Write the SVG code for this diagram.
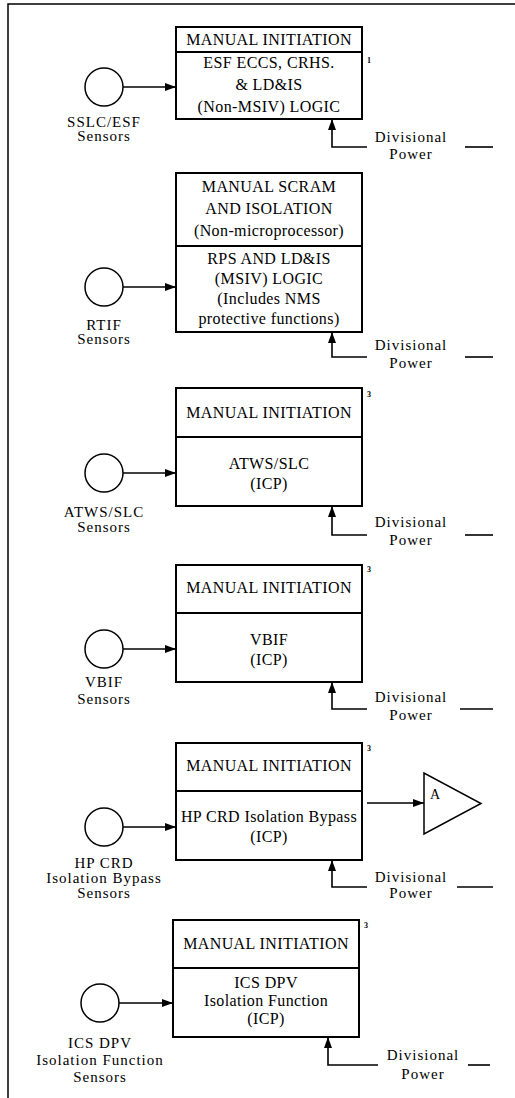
<svg xmlns="http://www.w3.org/2000/svg" width="515" height="1098" viewBox="0 0 515 1098">
<style>
.frame{fill:none;stroke:#000;stroke-width:1.5}
.box{fill:#fff;stroke:#000;stroke-width:2}
.div{stroke:#000;stroke-width:1.8}
.sensor{fill:#fff;stroke:#000;stroke-width:1.5}
.wire{fill:none;stroke:#000;stroke-width:1.6}
.bt{font-family:"Liberation Serif","Times New Roman",serif;font-size:16px;letter-spacing:0.4px;text-anchor:middle;fill:#000}
.lt{font-family:"Liberation Serif","Times New Roman",serif;font-size:15px;letter-spacing:1px;text-anchor:middle;fill:#000}
.sup{font-family:"Liberation Serif","Times New Roman",serif;font-size:8px;font-weight:bold;fill:#000}
</style>
<defs>
<marker id="ah" markerWidth="12" markerHeight="10" refX="11" refY="5" orient="auto" markerUnits="userSpaceOnUse">
<path d="M0,1 L11,5 L0,9 Z" fill="#000"/>
</marker>
</defs>
<rect width="515" height="1098" fill="#fff"/>
<g id="frame">
<path class="frame" d="M8,1098 V4 H515"/>
</g>

<g id="logic1">
<rect class="box" x="176" y="27" width="186" height="92"/>
<line class="div" x1="176" y1="52" x2="362" y2="52"/>
<text class="bt" x="269" y="45">MANUAL INITIATION</text>
<text class="bt" x="269" y="68">ESF ECCS, CRHS.</text>
<text class="bt" x="269" y="90">&amp; LD&amp;IS</text>
<text class="bt" x="269" y="112">(Non-MSIV) LOGIC</text>
<text class="sup" x="367" y="63">1</text>
</g>
<g id="sensor1">
<circle class="sensor" cx="104" cy="87" r="19"/>
<text class="lt" x="104" y="127">SSLC/ESF</text>
<text class="lt" x="104" y="141">Sensors</text>
</g>
<g id="power1">
<text class="lt" x="411" y="142">Divisional</text>
<text class="lt" x="411" y="159">Power</text>
</g>

<g id="logic2">
<rect class="box" x="176" y="173" width="186" height="159"/>
<line class="div" x1="176" y1="246" x2="362" y2="246"/>
<text class="bt" x="269" y="192">MANUAL SCRAM</text>
<text class="bt" x="269" y="214">AND ISOLATION</text>
<text class="bt" x="269" y="236">(Non-microprocessor)</text>
<text class="bt" x="269" y="264">RPS AND LD&amp;IS</text>
<text class="bt" x="269" y="284">(MSIV) LOGIC</text>
<text class="bt" x="269" y="304">(Includes NMS</text>
<text class="bt" x="269" y="324">protective functions)</text>
</g>
<g id="sensor2">
<circle class="sensor" cx="104" cy="287" r="19"/>
<text class="lt" x="104" y="330">RTIF</text>
<text class="lt" x="104" y="344">Sensors</text>
</g>
<g id="power2">
<text class="lt" x="411" y="350">Divisional</text>
<text class="lt" x="411" y="368">Power</text>
</g>

<g id="logic3">
<rect class="box" x="176" y="388" width="186" height="118"/>
<line class="div" x1="176" y1="437" x2="362" y2="437"/>
<text class="bt" x="269" y="418">MANUAL INITIATION</text>
<text class="bt" x="269" y="469">ATWS/SLC</text>
<text class="bt" x="269" y="489">(ICP)</text>
<text class="sup" x="367" y="397">3</text>
</g>
<g id="sensor3">
<circle class="sensor" cx="104" cy="473" r="19"/>
<text class="lt" x="104" y="517">ATWS/SLC</text>
<text class="lt" x="104" y="532">Sensors</text>
</g>
<g id="power3">
<text class="lt" x="411" y="527">Divisional</text>
<text class="lt" x="411" y="545">Power</text>
</g>

<g id="logic4">
<rect class="box" x="176" y="565" width="186" height="117"/>
<line class="div" x1="176" y1="613" x2="362" y2="613"/>
<text class="bt" x="269" y="593">MANUAL INITIATION</text>
<text class="bt" x="269" y="645">VBIF</text>
<text class="bt" x="269" y="665">(ICP)</text>
<text class="sup" x="367" y="572">3</text>
</g>
<g id="sensor4">
<circle class="sensor" cx="104" cy="649" r="19"/>
<text class="lt" x="104" y="687">VBIF</text>
<text class="lt" x="104" y="704">Sensors</text>
</g>
<g id="power4">
<text class="lt" x="411" y="702">Divisional</text>
<text class="lt" x="411" y="720">Power</text>
</g>

<g id="logic5">
<rect class="box" x="176" y="743" width="186" height="117"/>
<line class="div" x1="176" y1="791" x2="362" y2="791"/>
<text class="bt" x="269" y="771">MANUAL INITIATION</text>
<text class="bt" x="269" y="822">HP CRD Isolation Bypass</text>
<text class="bt" x="269" y="842">(ICP)</text>
<text class="sup" x="367" y="751">3</text>
</g>
<g id="sensor5">
<circle class="sensor" cx="104" cy="827" r="19"/>
<text class="lt" x="104" y="868">HP CRD</text>
<text class="lt" x="104" y="883">Isolation Bypass</text>
<text class="lt" x="104" y="898">Sensors</text>
</g>
<g id="power5">
<text class="lt" x="411" y="882">Divisional</text>
<text class="lt" x="411" y="898">Power</text>
</g>
<g id="offpage-A">
<polygon class="sensor" points="424,773 424,834 481,803.5"/>
<text class="lt" x="435" y="799" style="font-size:14px;letter-spacing:0">A</text>
</g>

<g id="logic6">
<rect class="box" x="173" y="920" width="186" height="117"/>
<line class="div" x1="173" y1="968" x2="359" y2="968"/>
<text class="bt" x="266" y="949">MANUAL INITIATION</text>
<text class="bt" x="266" y="988">ICS DPV</text>
<text class="bt" x="266" y="1006">Isolation Function</text>
<text class="bt" x="266" y="1024">(ICP)</text>
<text class="sup" x="364" y="928">3</text>
</g>
<g id="sensor6">
<circle class="sensor" cx="100" cy="1003" r="19"/>
<text class="lt" x="100" y="1048">ICS DPV</text>
<text class="lt" x="100" y="1065">Isolation Function</text>
<text class="lt" x="100" y="1082">Sensors</text>
</g>
<g id="power6">
<text class="lt" x="423" y="1060">Divisional</text>
<text class="lt" x="423" y="1079">Power</text>
</g>

<g id="connectors">
<line class="wire" x1="123" y1="87" x2="176" y2="87" marker-end="url(#ah)"/>
<path class="wire" d="M367,147 H332 V119" marker-end="url(#ah)"/>
<line class="wire" x1="465" y1="147" x2="493" y2="147"/>

<line class="wire" x1="123" y1="287" x2="176" y2="287" marker-end="url(#ah)"/>
<path class="wire" d="M367,357 H332 V332" marker-end="url(#ah)"/>
<line class="wire" x1="465" y1="357" x2="493" y2="357"/>

<line class="wire" x1="123" y1="473" x2="176" y2="473" marker-end="url(#ah)"/>
<path class="wire" d="M367,535 H332 V506" marker-end="url(#ah)"/>
<line class="wire" x1="465" y1="535" x2="493" y2="535"/>

<line class="wire" x1="123" y1="649" x2="176" y2="649" marker-end="url(#ah)"/>
<path class="wire" d="M367,709 H332 V682" marker-end="url(#ah)"/>
<line class="wire" x1="460" y1="709" x2="493" y2="709"/>

<line class="wire" x1="123" y1="827" x2="176" y2="827" marker-end="url(#ah)"/>
<line class="wire" x1="367" y1="803" x2="424" y2="803" marker-end="url(#ah)"/>
<path class="wire" d="M367,887 H332 V860" marker-end="url(#ah)"/>
<line class="wire" x1="457" y1="887" x2="493" y2="887"/>

<line class="wire" x1="119" y1="1003" x2="173" y2="1003" marker-end="url(#ah)"/>
<path class="wire" d="M378,1065 H328 V1037" marker-end="url(#ah)"/>
<line class="wire" x1="468" y1="1065" x2="490" y2="1065"/>
</g>
</svg>
